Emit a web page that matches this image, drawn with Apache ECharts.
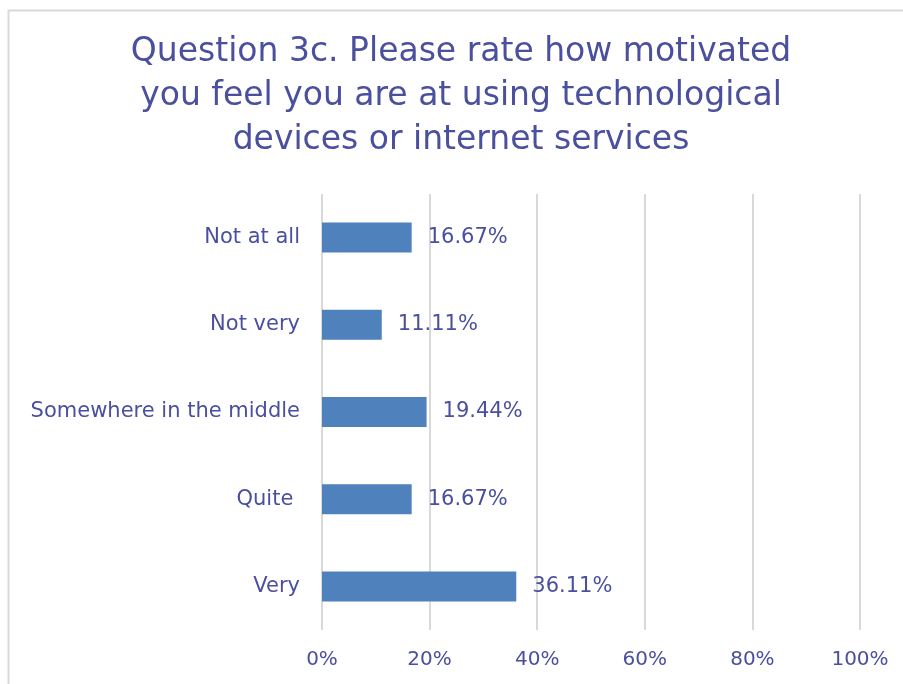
<!DOCTYPE html>
<html>
<head>
<meta charset="utf-8">
<script src="https://cdn.jsdelivr.net/npm/echarts@6/dist/echarts.min.js"></script>
<style>
  html, body { margin: 0; padding: 0; background: #fff; }
  #chart { width: 903px; height: 684px; }
</style>
</head>
<body>
<div id="chart"></div>
<script>
// Survey answers, top to bottom
const categories = ['Not at all', 'Not very', 'Somewhere in the middle', 'Quite ', 'Very'];
const percentValues = [16.67, 11.11, 19.44, 16.67, 36.11];
const axisTicks = [0, 20, 40, 60, 80, 100];
const titleLines = [
  'Question 3c. Please rate how motivated',
  'you feel you are at using technological',
  'devices or internet services'
];

const textColor = '#4a4f9e';
const fontFamily = '"DejaVu Sans", Tahoma, sans-serif';

const chart = echarts.init(document.getElementById('chart'), null, { renderer: 'canvas' });

chart.setOption({
  animation: false,
  backgroundColor: '#ffffff',
  graphic: [
    {
      type: 'rect',
      shape: { x: 8.5, y: 10.5, width: 1000, height: 1000 },
      style: { fill: 'none', stroke: '#d9d9d9', lineWidth: 2 },
      silent: true
    },
    {
      type: 'text',
      x: 461,
      y: 30,
      style: {
        text: titleLines.join('\n'),
        fill: textColor,
        font: '33px ' + fontFamily,
        lineHeight: 44,
        align: 'center',
        verticalAlign: 'top'
      },
      silent: true
    }
  ],
  grid: { left: 322, right: 43, top: 194, bottom: 54 },
  xAxis: {
    type: 'value',
    min: axisTicks[0],
    max: axisTicks[axisTicks.length - 1],
    interval: axisTicks[1] - axisTicks[0],
    axisLine: { show: false },
    axisTick: { show: false },
    splitLine: { show: true, lineStyle: { color: '#d9d9d9', width: 2 } },
    axisLabel: {
      color: textColor,
      fontFamily: fontFamily,
      fontSize: 20,
      margin: 20,
      formatter: v => v + '%'
    }
  },
  yAxis: {
    type: 'category',
    data: categories,
    inverse: true,
    axisLine: { show: false },
    axisTick: { show: false },
    splitLine: { show: false },
    axisLabel: {
      color: textColor,
      fontFamily: fontFamily,
      fontSize: 21,
      margin: 22
    }
  },
  series: [{
    type: 'bar',
    data: percentValues,
    barWidth: 30,
    itemStyle: { color: '#4f81bd' },
    label: {
      show: true,
      position: 'right',
      distance: 16,
      color: textColor,
      fontFamily: fontFamily,
      fontSize: 21,
      formatter: p => p.value.toFixed(2) + '%'
    }
  }]
});
</script>
</body>
</html>
